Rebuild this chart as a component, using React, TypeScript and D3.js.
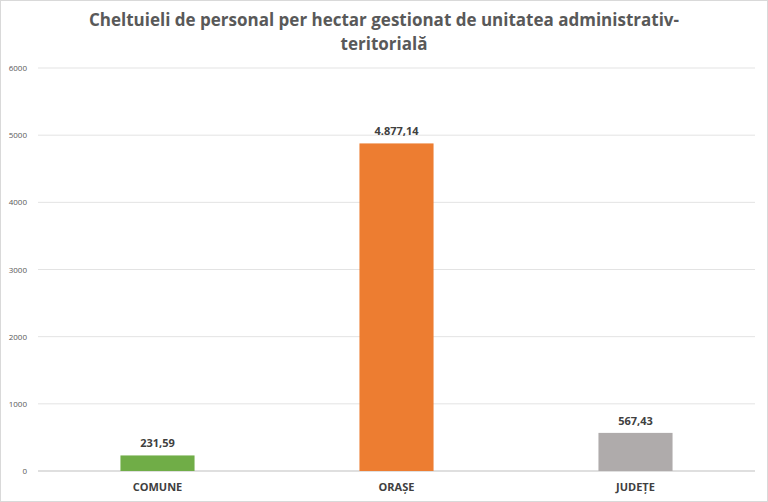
import * as d3 from "d3";
import React from "react";

const categories = ["COMUNE", "ORAȘE", "JUDEȚE"];
const values = [231.59, 4877.14, 567.43];
const labels = ["231,59", "4.877,14", "567,43"];
const colors = ["#70ad47", "#ed7d31", "#afabab"];
const yTicks = [0, 1000, 2000, 3000, 4000, 5000, 6000];
const titleLines = ["Cheltuieli de personal per hectar gestionat de unitatea administrativ-", "teritorială"];

const W = 768, H = 502;
const margin = { top: 68, right: 13, bottom: 31, left: 38 };

export default function App() {
  const x = d3.scaleBand().domain(categories).range([margin.left, W - margin.right]).paddingInner(0.69).paddingOuter(0.345);
  const y = d3.scaleLinear().domain([0, 6000]).range([H - margin.bottom, margin.top]);
  const font = "'Open Sans', 'Liberation Sans', sans-serif";
  return (
    <svg width={W} height={H} style={{ position: "absolute", left: 0, top: 0, fontFamily: font }}>
      <rect x={0.5} y={0.5} width={W - 1} height={H - 1} fill="#fff" stroke="#d9d9d9" />
      {titleLines.map((t, i) => (
        <text key={i} x={W / 2} y={26 + i * 24} textAnchor="middle" fontSize={17} fontWeight="bold" fill="#595959">{t}</text>
      ))}
      {yTicks.map(t => (
        <g key={t}>
          <line x1={margin.left} x2={W - margin.right} y1={y(t)} y2={y(t)} stroke={t === 0 ? "#bfbfbf" : "#e3e3e3"} />
          <text x={27} y={y(t) + 3} textAnchor="end" fontSize={8} fill="#595959">{t}</text>
        </g>
      ))}
      {categories.map((c, i) => (
        <g key={c}>
          <rect x={x(c)} y={y(values[i])} width={x.bandwidth()} height={y(0) - y(values[i])} fill={colors[i]} />
          <text x={x(c)! + x.bandwidth() / 2} y={y(values[i]) - 8} textAnchor="middle" fontSize={11} fontWeight="bold" fill="#404040">{labels[i]}</text>
          <text x={x(c)! + x.bandwidth() / 2} y={H - 11} textAnchor="middle" fontSize={11} fontWeight="bold" fill="#404040">{c}</text>
        </g>
      ))}
    </svg>
  );
}
